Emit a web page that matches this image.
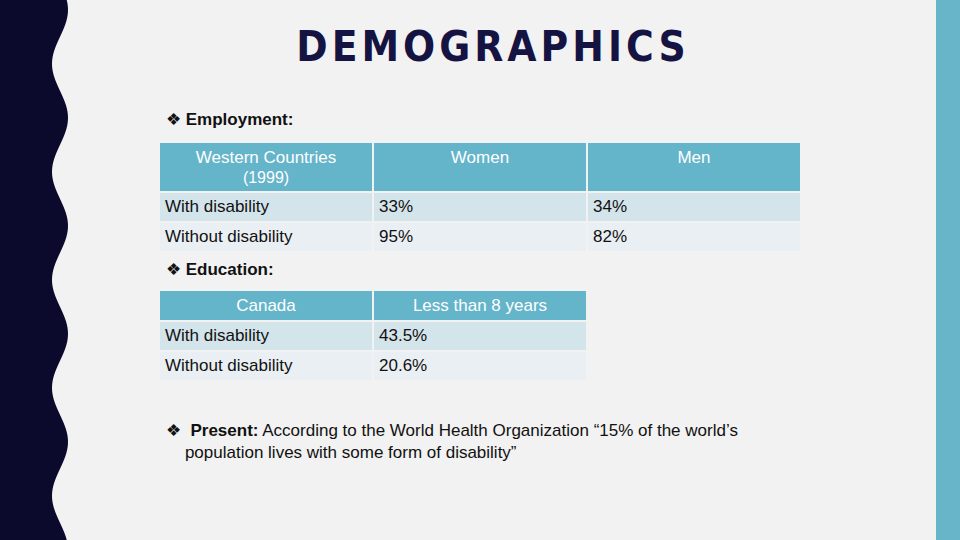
<!DOCTYPE html>
<html><head><meta charset="utf-8">
<script src="https://cdn.jsdelivr.net/npm/chart.js@4/dist/chart.umd.min.js"></script>
<style>
body{margin:0;width:960px;height:540px;background:#f2f2f2;position:relative;overflow:hidden;font-family:"Liberation Sans",Arial,sans-serif;}
#right{position:absolute;left:936px;top:0;width:24px;height:540px;background:#68b4c8;}
#title{position:absolute;left:0;width:986px;top:22px;text-align:center;font-size:42px;font-weight:bold;letter-spacing:4px;color:#141342;font-family:"Liberation Sans Narrow","DejaVu Sans Condensed",sans-serif;}
.b{position:absolute;left:166px;font-size:17px;color:#111;}
table{position:absolute;border-collapse:separate;border-spacing:2px;font-size:17px;color:#111;table-layout:fixed;}
td{padding:0 5px;overflow:hidden;white-space:nowrap;}
th{background:#64b4ca;color:#fff;font-weight:normal;vertical-align:top;padding-top:5px;}
tr.r1 td{background:#d4e4eb;}
tr.r2 td{background:#e9eff3;}
</style></head><body>
<svg style="position:absolute;left:0;top:0" width="80" height="540"><path id="wave" fill="#0c0a2c"/></svg>
<div id="right"></div>
<div id="title">DEMOGRAPHICS</div>
<div class="b" style="top:109px">❖ <b>Employment:</b></div>
<table id="t1" style="left:158px;top:141px"></table>
<div class="b" style="top:259px">❖ <b>Education:</b></div>
<table id="t2" style="left:158px;top:289px"></table>
<div class="b" style="top:420px;line-height:22px">❖ &nbsp;<b>Present:</b> According to the World Health Organization “15% of the world’s<br>&nbsp;&nbsp;&nbsp;&nbsp;population lives with some form of disability”</div>
<script>
const empHeaders=["Western Countries<br><span style='font-size:16px'>(1999)</span>","Women","Men"];
const empRows=["With disability","Without disability"];
const empWomen=["33%","95%"];
const empMen=["34%","82%"];
const eduHeaders=["Canada","Less than 8 years"];
const eduRows=["With disability","Without disability"];
const eduValues=["43.5%","20.6%"];
function build(id,heads,rows,cols,hh){
  const t=document.getElementById(id);
  t.style.width=(heads.length*214+2)+"px";
  let h="<tr style='height:"+hh+"px'>"+heads.map(x=>`<th style='width:202px'>${x}</th>`).join("")+"</tr>";
  rows.forEach((r,i)=>{h+=`<tr class='r${i+1}' style='height:28px'><td>${r}</td>`+cols.map(c=>`<td>${c[i]}</td>`).join("")+"</tr>";});
  t.innerHTML=h;
}
build("t1",empHeaders,empRows,[empWomen,empMen],48);
build("t2",eduHeaders,eduRows,[eduValues],29);
let d="M0 0 L60 0";
for(let y=0;y<=540;y+=3){d+=` L${60+8*Math.sin(y/540*Math.PI*10+1)} ${y}`;}
d+=" L0 540 Z";
document.getElementById("wave").setAttribute("d",d);
</script>
</body></html>
